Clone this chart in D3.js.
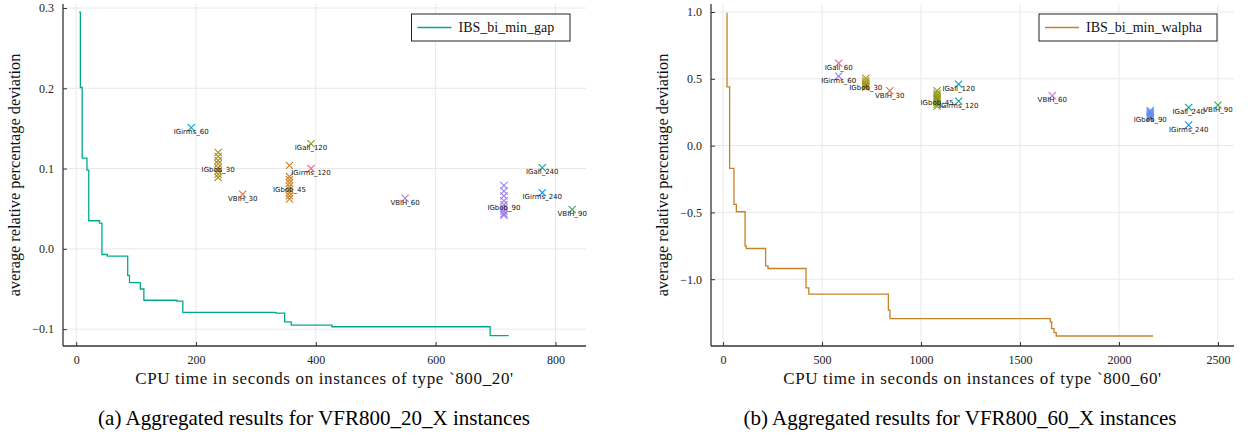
<!DOCTYPE html>
<html>
<head>
<meta charset="utf-8">
<title>Aggregated results VFR800</title>
<script src="https://d3js.org/d3.v7.min.js"></script>
<style>
  body { margin: 0; background: #fff; }
  svg { display: block; }
  .tick_label { font-family: "Liberation Serif", serif; font-size: 12px; fill: #222; }
  .axis_title { font-family: "Liberation Serif", serif; font-size: 16.3px; fill: #111; }
  .x_title { font-size: 17px; letter-spacing: 0.65px; }
  .caption { font-family: "Liberation Serif", serif; font-size: 21px; fill: #000; }
  .legend_text { font-family: "Liberation Serif", serif; font-size: 14px; fill: #111; }
  .point_label { font-family: "DejaVu Sans", sans-serif; font-size: 7px; fill: #111; }
</style>
</head>
<body>
<div id="chart"></div>
<script>

// ---- data: panel (a) VFR800_20_X ----
const stepTimesA  = [5, 7, 10, 18, 21, 39, 43, 52, 86, 89, 107, 113, 168, 178, 333, 348, 359, 427, 691, 722];
const stepValuesA = [0.295, 0.201, 0.113, 0.098, 0.035, 0.032, -0.007, -0.009, -0.033, -0.042, -0.050, -0.064, -0.065, -0.079, -0.080, -0.091, -0.095, -0.097, -0.108, -0.108];

const namesA  = ["IGirms_60", "IGall_120", "IGbob_30", "IGirms_120", "IGbob_45", "VBIH_30", "VBIH_60", "IGall_240", "IGirms_240", "IGbob_90", "VBIH_90"];
const timesA  = [192, 392, 237, 392, 356, 278, 549, 778, 778, 714, 828];
const valuesA = [
  [0.151],
  [0.131],
  [0.120, 0.115, 0.110, 0.106, 0.101, 0.097, 0.093, 0.089],
  [0.100],
  [0.104, 0.090, 0.086, 0.082, 0.078, 0.074, 0.070, 0.066, 0.062],
  [0.068],
  [0.063],
  [0.101],
  [0.070],
  [0.079, 0.072, 0.066, 0.060, 0.055, 0.051, 0.047, 0.044, 0.042],
  [0.049]
];
const xTicksA = [0, 200, 400, 600, 800];
const yTicksA = [-0.1, 0.0, 0.1, 0.2, 0.3];

// ---- data: panel (b) VFR800_60_X ----
const stepTimesB  = [17, 20, 33, 55, 67, 111, 117, 215, 227, 419, 433, 835, 843, 1653, 1660, 1672, 1683, 2172];
const stepValuesB = [0.99, 0.44, -0.17, -0.44, -0.495, -0.75, -0.77, -0.90, -0.92, -1.065, -1.112, -1.232, -1.295, -1.32, -1.37, -1.40, -1.425, -1.425];

const namesB  = ["IGall_60", "IGirms_60", "IGbob_30", "VBIH_30", "IGall_120", "IGbob_45", "IGirms_120", "VBIH_60", "IGbob_90", "IGall_240", "IGirms_240", "VBIH_90"];
const timesB  = [584, 584, 721, 842, 1190, 1081, 1190, 1663, 2158, 2352, 2352, 2500];
const valuesB = [
  [0.616],
  [0.520],
  [0.505, 0.485, 0.470, 0.460, 0.450, 0.440, 0.436],
  [0.410],
  [0.460],
  [0.410, 0.390, 0.375, 0.360, 0.350, 0.340, 0.325, 0.310, 0.295],
  [0.333],
  [0.373],
  [0.262, 0.250, 0.240, 0.230, 0.222, 0.215, 0.210, 0.205],
  [0.286],
  [0.154],
  [0.303]
];
const xTicksB = [0, 500, 1000, 1500, 2000, 2500];
const yTicksB = [-1.0, -0.5, 0.0, 0.5, 1.0];

// marker colours (Plots.jl default palette)
const colorsA = ["#00a8cb", "#8e971d", "#ac8d18", "#ed5e93", "#c68225", "#e36f47", "#c371d2", "#00a9ad", "#009afa", "#9b7fe9", "#3ea44e"];
const colorsB = ["#ed5e93", "#9b7fe9", "#a8961a", "#e36f47", "#00a8cb", "#8e971d", "#00a98d", "#c371d2", "#618df6", "#00a9ad", "#009afa", "#3ea44e"];

const W = 1251, H = 436;

const svg = d3.select("#chart")
  .append("svg")
    .attr("width", W)
    .attr("height", H);

function drawPanel(p) {
  const x = d3.scaleLinear().domain(p.xDomain).range([p.left, p.right]);
  const y = d3.scaleLinear().domain(p.yDomain).range([p.bottom, p.top]);
  const g = svg.append("g");

  // grid
  g.selectAll(".gx").data(p.xTicks).enter().append("line")
    .attr("x1", d => x(d)).attr("x2", d => x(d))
    .attr("y1", p.top).attr("y2", p.bottom)
    .attr("stroke", "#e8e8e8").attr("stroke-width", 1);
  g.selectAll(".gy").data(p.yTicks).enter().append("line")
    .attr("x1", p.left).attr("x2", p.right)
    .attr("y1", d => y(d)).attr("y2", d => y(d))
    .attr("stroke", "#e8e8e8").attr("stroke-width", 1);

  // axes (inward ticks)
  const xAxis = g.append("g")
    .attr("transform", `translate(0,${p.bottom})`)
    .call(d3.axisBottom(x).tickValues(p.xTicks).tickSizeInner(-4).tickSizeOuter(0).tickPadding(9).tickFormat(d3.format("d")));
  const yAxis = g.append("g")
    .attr("transform", `translate(${p.left},0)`)
    .call(d3.axisLeft(y).tickValues(p.yTicks).tickSizeInner(-4).tickSizeOuter(0).tickPadding(9)
      .tickFormat(d => d3.format(".1f")(d).replace("-", "\u2212")));
  [xAxis, yAxis].forEach(a => {
    a.select(".domain").attr("stroke", "#333").attr("stroke-width", 1.3);
    a.selectAll(".tick line").attr("stroke", "#333");
    a.selectAll("text").attr("class", "tick_label").attr("font-family", null).attr("font-size", null).attr("fill", null);
  });
  // axis lines span the whole frame
  xAxis.select(".domain").attr("d", `M${p.left},0H${p.right}`);
  yAxis.select(".domain").attr("d", `M0,${p.top}V${p.bottom}`);

  // step line
  const pts = p.stepTimes.map((t, i) => [t, p.stepValues[i]]);
  g.append("path")
    .datum(pts)
    .attr("fill", "none")
    .attr("stroke", p.lineColor)
    .attr("stroke-width", 1.3)
    .attr("d", d3.line().x(d => x(d[0])).y(d => y(d[1])).curve(d3.curveStepAfter));

  // markers
  p.names.forEach((name, i) => {
    const cx = x(p.times[i]);
    p.values[i].forEach(v => {
      const cy = y(v), r = 3.6;
      g.append("path")
        .attr("d", `M${cx - r},${cy - r}L${cx + r},${cy + r}M${cx - r},${cy + r}L${cx + r},${cy - r}`)
        .attr("stroke", p.colors[i])
        .attr("stroke-width", 1.1)
        .attr("fill", "none");
    });
  });
  // labels
  p.names.forEach((name, i) => {
    g.append("text")
      .attr("class", "point_label")
      .attr("x", x(p.times[i]))
      .attr("y", y(d3.mean(p.values[i])) + 4.7)
      .attr("text-anchor", "middle")
      .attr("dominant-baseline", "central")
      .text(name);
  });

  // legend
  const lg = g.append("g");
  lg.append("rect")
    .attr("x", p.legend.x).attr("y", 14)
    .attr("width", p.legend.w).attr("height", 27)
    .attr("fill", "#fff").attr("stroke", "#222").attr("stroke-width", 1);
  lg.append("line")
    .attr("x1", p.legend.x + 6).attr("x2", p.legend.x + 40)
    .attr("y1", 27.5).attr("y2", 27.5)
    .attr("stroke", p.lineColor).attr("stroke-width", 1.3);
  lg.append("text")
    .attr("class", "legend_text")
    .attr("x", p.legend.x + 47).attr("y", 32)
    .text(p.legendLabel);

  // axis titles
  g.append("text")
    .attr("class", "axis_title")
    .attr("transform", `translate(${p.left - 49},${(p.top + p.bottom) / 2}) rotate(-90)`)
    .attr("text-anchor", "middle")
    .attr("dominant-baseline", "central")
    .text("average relative percentage deviation");
  g.append("text")
    .attr("class", "axis_title x_title")
    .attr("x", (p.left + p.right) / 2)
    .attr("y", 384)
    .attr("text-anchor", "middle")
    .text(p.xTitle);

  // caption
  g.append("text")
    .attr("class", "caption")
    .attr("x", p.captionX)
    .attr("y", 425)
    .attr("text-anchor", "middle")
    .text(p.caption);
}

drawPanel({
  left: 63, right: 586, top: 4, bottom: 346,
  xDomain: [-22, 851], yDomain: [-0.121, 0.305],
  xTicks: xTicksA, yTicks: yTicksA,
  stepTimes: stepTimesA, stepValues: stepValuesA, lineColor: "#00a98d",
  names: namesA, times: timesA, values: valuesA, colors: colorsA,
  legend: {x: 411.5, w: 158.5}, legendLabel: "IBS_bi_min_gap",
  xTitle: "CPU time in seconds on instances of type `800_20'",
  caption: "(a) Aggregated results for VFR800_20_X instances", captionX: 314
});

drawPanel({
  left: 711, right: 1234, top: 4, bottom: 346,
  xDomain: [-61, 2581], yDomain: [-1.5, 1.06],
  xTicks: xTicksB, yTicks: yTicksB,
  stepTimes: stepTimesB, stepValues: stepValuesB, lineColor: "#c68225",
  names: namesB, times: timesB, values: valuesB, colors: colorsB,
  legend: {x: 1039, w: 178}, legendLabel: "IBS_bi_min_walpha",
  xTitle: "CPU time in seconds on instances of type `800_60'",
  caption: "(b) Aggregated results for VFR800_60_X instances", captionX: 960
});

</script>
</body>
</html>
